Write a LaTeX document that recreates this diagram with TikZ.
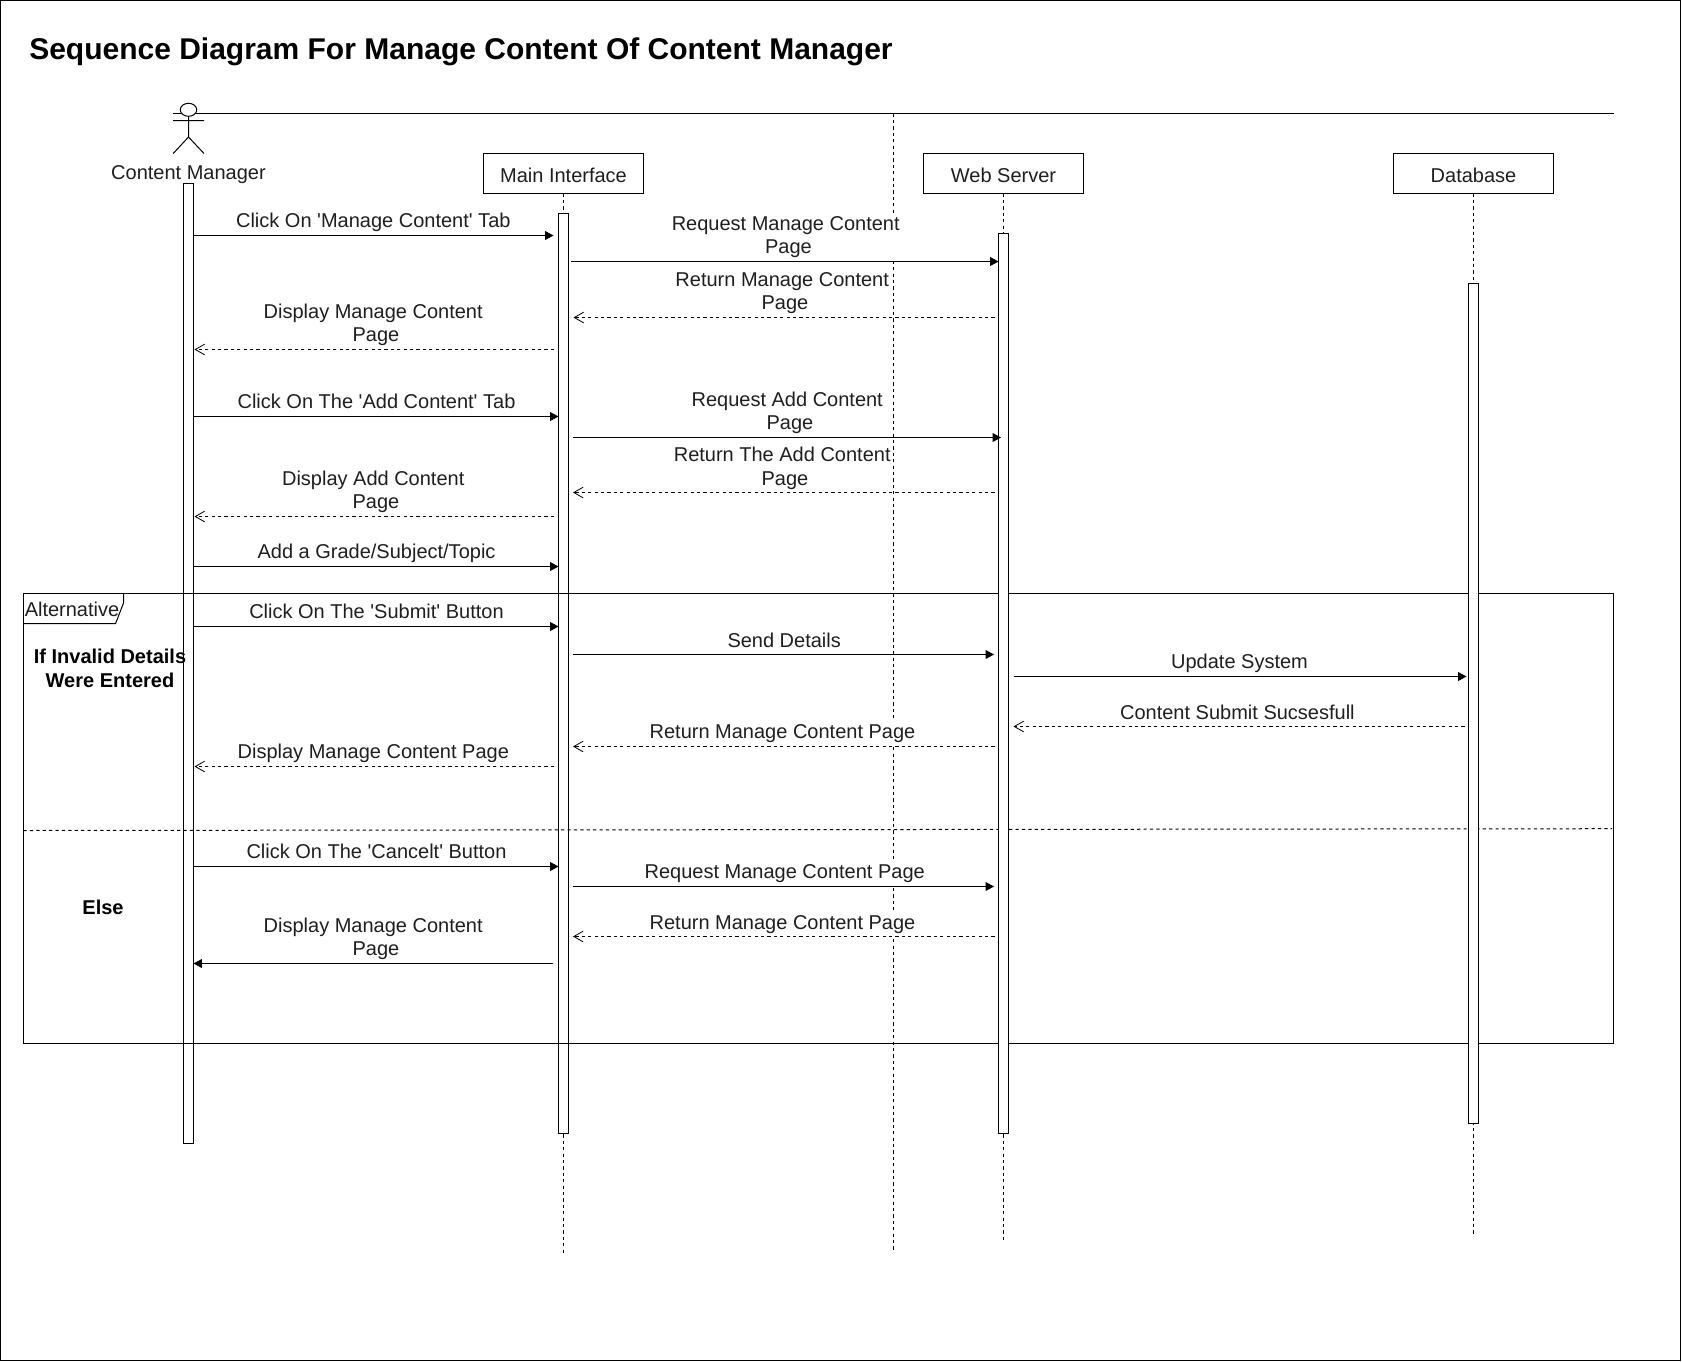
\documentclass[tikz,border=0pt]{standalone}
\usepackage{fontspec}
\setmainfont{Liberation Sans}
\usetikzlibrary{arrows.meta,shapes.geometric}
\newcommand\px{0.75pt}
\newcommand\ts{\kern 4.17pt}
\newcommand\qt{\textquotesingle}
\newcommand\lcut{\fontsize{15}{17.7}\selectfont}
\newcommand\lowered[1]{\raisebox{-7pt}[0pt][0pt]{#1}}
\colorlet{txt}{black!88}
\tikzset{
  ln/.style={line width=0.75pt},
  dsh/.style={ln,dash pattern=on 2.4pt off 2.4pt},
  lifeln/.style={dsh},
  bar/.style={rectangle,draw,ln,fill=white,minimum width=10*\px,inner sep=0pt,outer sep=0pt},
  headbox/.style={rectangle,draw,ln,fill=white,minimum width=160*\px,minimum height=40*\px,inner sep=0pt,outer sep=0pt,font=\lcut,text=txt},
  lbl/.style={fill=white,inner sep=0.4pt,outer sep=0pt,align=center,font=\lcut,text=txt},
  lblclear/.style={inner sep=0.4pt,outer sep=0pt,align=center,font=\lcut,text=txt},
  plain/.style={inner sep=0pt,outer sep=0pt,align=center,font=\lcut,text=txt},
  bold/.style={inner sep=0pt,outer sep=0pt,align=center,font=\lcut\bfseries},
  sync/.style={ln,-{Triangle[length=6.2pt,width=6.5pt]}},
  ret/.style={dsh,-{Straight Barb[length=7pt,width=8pt,line width=0.6pt]}},
}
\newcommand\msg[6]{\draw[#1] ([xshift=#3*\px]#2 |- 0,#6) -- ([xshift=#5*\px]#4 |- 0,#6);}
\begin{document}
\begin{tikzpicture}[x=0.75pt,y=-0.75pt]
\useasboundingbox (0,0) rectangle (1682,1361);
\node[rectangle,draw,ln,fill=white,inner sep=0pt,outer sep=0pt,minimum width=1680*\px,minimum height=1360*\px,anchor=north west] (page) at (0.5,0.5) {};
\node[anchor=base west,inner sep=0pt,font=\fontsize{22.5}{26}\selectfont\bfseries] (title) at (29,59.5) {Sequence Diagram For Manage Content Of Content Manager};
% top rule and centre dashed rule
\coordinate (ruleL) at (173,113.5);
\coordinate (ruleR) at (1613.5,113.5);
\draw[ln] (ruleL) -- (ruleR);
\coordinate (midT) at (893.5,113.5);
\coordinate (midB) at (893.5,1250.7);
\draw[dsh] (midT) -- (midB);
% actor
\node[ellipse,draw,ln,fill=white,inner sep=0pt,outer sep=0pt,minimum width=16.5*\px,minimum height=13*\px] (head) at (188.5,109.8) {};
\coordinate (hip) at (188.5,137);
\coordinate (armL) at (173.2,120.5);
\coordinate (armR) at (204,120.5);
\coordinate (legL) at (173.2,153.5);
\coordinate (legR) at (204,153.5);
\draw[ln] (head.south) -- (hip) (armL) -- (armR) (legL) -- (hip) -- (legR);
\node[plain] (cmlabel) at (188.5,174.5) {Content Manager};
% lifeline heads
\node[headbox] (hM) at (563.5,173.5) {\lowered{Main Interface}};
\node[headbox] (hW) at (1003.5,173.5) {\lowered{Web Server}};
\node[headbox] (hD) at (1473.5,173.5) {\lowered{Database}};
% lifeline tails
\coordinate (tM) at (563.5,1252.7);
\coordinate (tW) at (1003.5,1240.7);
\coordinate (tD) at (1473.5,1234);
\draw[lifeln] (hM.south) -- (tM);
\draw[lifeln] (hW.south) -- (tW);
\draw[lifeln] (hD.south) -- (tD);
% bars below frame
\node[bar,minimum height=960*\px,anchor=north] (barC) at (188.5,183.5) {};
\node[bar,minimum height=920*\px,anchor=north] (barM) at (563.5,213.5) {};
% frame
\node[rectangle,draw,ln,inner sep=0pt,outer sep=0pt,minimum width=1590*\px,minimum height=450*\px,anchor=north west] (frame) at (23.5,593.5) {};
\coordinate (tabA) at (123.5,593.5);
\coordinate (tabB) at (123.5,603);
\coordinate (tabC) at (115.6,623.5);
\coordinate (tabD) at (23.5,623.5);
\draw[ln] (tabA) -- (tabB) -- (tabC) -- (tabD);
\node[plain] (altlabel) at (72,609) {Alternative};
\coordinate (divL) at (23.5,830.5);
\coordinate (divR) at (1612,828.7);
\draw[dsh] (divL) -- (divR);
% bars above frame
\node[bar,minimum height=900*\px,anchor=north] (barW) at (1003.5,233.5) {};
\node[bar,minimum height=840*\px,anchor=north] (barD) at (1473.5,283.5) {};
% guards
\node[bold] (gd1) at (110,671) {\strut If Invalid Details\\\strut Were Entered};
\node[bold] (gd2) at (103,910.2) {\strut Else};
% labels
\node[lbl] (l1) at (373.3,223.2) {\strut Click On \qt Manage Content\qt{} Tab};
\node[lbl] (l2) at (788.5,237.2) {\strut Request Manage Content\ts\\\strut Page};
\node[lblclear] (l3) at (785,293.2) {\strut Return Manage Content\ts\\\strut Page};
\node[lbl] (l4) at (376,325.2) {\strut Display Manage Content\ts\\\strut Page};
\node[lbl] (l5) at (376.5,404.2) {\strut Click On The \qt Add Content\qt{} Tab};
\node[lblclear] (l6) at (790,413.2) {\strut Request Add Content\ts\\\strut Page};
\node[lblclear] (l7) at (785,468.7) {\strut Return The Add Content\ts\\\strut Page};
\node[lbl] (l8) at (376,492.2) {\strut Display Add Content\ts\\\strut Page};
\node[lbl] (l9) at (376.5,554.2) {\strut Add a Grade/Subject/Topic};
\node[lbl] (l10) at (376.5,614.2) {\strut Click On The \qt Submit\qt{} Button};
\node[lbl] (l11) at (784.2,642.6) {\strut Send Details};
\node[lbl] (l12) at (1239.5,664.2) {\strut Update System};
\node[lbl] (l13) at (1237.4,714.5) {\strut Content Submit Sucsesfull};
\node[lbl] (l14) at (782.5,734.2) {\strut Return Manage Content Page};
\node[lbl] (l15) at (373.3,754.2) {\strut Display Manage Content Page};
\node[lbl] (l16) at (376.5,853.9) {\strut Click On The \qt Cancelt\qt{} Button};
\node[lbl] (l17) at (784.7,874.2) {\strut Request Manage Content Page};
\node[lbl] (l18) at (782.5,924.7) {\strut Return Manage Content Page};
\node[lbl] (l19) at (376,939.2) {\strut Display Manage Content\ts\\\strut Page};
% messages
\msg{sync}{barC.east}{0}{barM.west}{-5}{235.5}
\msg{sync}{barM.east}{2.6}{barW.west}{0}{261.5}
\msg{ret}{barW.west}{-4}{barM.east}{5}{317.5}
\msg{ret}{barM.west}{-4.5}{barC.east}{1}{349.5}
\msg{sync}{barC.east}{0}{barM.west}{0}{416.5}
\msg{sync}{barM.east}{4.5}{barW.west}{2.5}{437.5}
\msg{ret}{barW.west}{-4}{barM.east}{4.5}{492.5}
\msg{ret}{barM.west}{-4.5}{barC.east}{1}{516.5}
\msg{sync}{barC.east}{0}{barM.west}{0}{566.5}
\msg{sync}{barC.east}{0}{barM.west}{0}{626.5}
\msg{sync}{barM.east}{4.5}{barW.west}{-4.5}{654.5}
\msg{sync}{barW.east}{5}{barD.west}{-2}{676.5}
\msg{ret}{barD.west}{-4}{barW.east}{5}{726.5}
\msg{ret}{barW.west}{-4}{barM.east}{4.5}{746.5}
\msg{ret}{barM.west}{-4.5}{barC.east}{1}{766.5}
\msg{sync}{barC.east}{0}{barM.west}{0}{866.5}
\msg{sync}{barM.east}{4.5}{barW.west}{-4.5}{886.5}
\msg{ret}{barW.west}{-4}{barM.east}{4.5}{936.5}
\msg{sync}{barM.west}{-5.5}{barC.east}{0}{963.5}
\end{tikzpicture}
\end{document}
